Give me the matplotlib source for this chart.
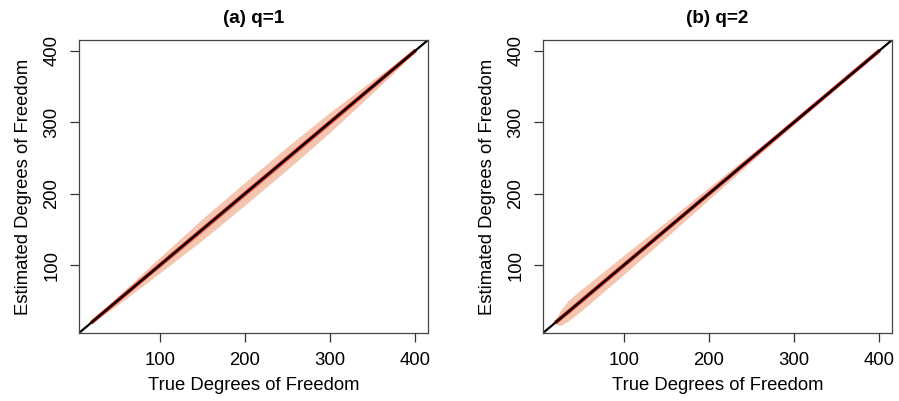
import numpy as np
import matplotlib
matplotlib.use("Agg")
import matplotlib.pyplot as plt

plt.rcParams['font.family'] = ['Liberation Sans', 'DejaVu Sans']

# Panel (a) q=1
true_df_a = [20, 50, 100, 150, 200, 250, 300, 350, 380, 400]
mean_a    = [20, 50, 100, 150, 200, 250, 300, 350, 380, 400]
outer_hi_a = [21, 56, 111, 165, 216, 266, 314, 359, 385, 401]
outer_lo_a = [19, 44, 89, 135, 184, 234, 286, 341, 375, 399]
inner_hi_a = [20.5, 51.5, 103, 154, 204, 254, 304, 353, 382, 400.5]
inner_lo_a = [19.5, 48.5, 97, 146, 196, 246, 296, 347, 378, 399.5]

# Panel (b) q=2
true_df_b = [20, 25, 35, 50, 100, 150, 200, 250, 300, 350, 400]
mean_b    = [20, 25, 35, 50, 100, 150, 200, 250, 300, 350, 400]
outer_hi_b = [24, 36, 51, 66, 114, 161, 209, 256, 303, 352, 401]
outer_lo_b = [17, 15, 22, 36, 87, 139, 192, 245, 297, 348, 399]
inner_hi_b = [21, 27, 38, 53, 103, 152, 202, 251, 301, 351, 400.5]
inner_lo_b = [19, 23, 32, 47, 97, 148, 198, 249, 299, 349, 399.5]

xticks = [100, 200, 300, 400]
yticks = [100, 200, 300, 400]
titles = ["(a) q=1", "(b) q=2"]

fig = plt.figure(figsize=(8.99, 4.01), dpi=100)
W, H = 899, 401
axes_px = [(79, 40, 349, 293), (543, 40, 349, 293)]

panels = [
    (true_df_a, mean_a, outer_lo_a, outer_hi_a, inner_lo_a, inner_hi_a),
    (true_df_b, mean_b, outer_lo_b, outer_hi_b, inner_lo_b, inner_hi_b),
]

for (l, t, w, h), title, (x, m, olo, ohi, ilo, ihi) in zip(axes_px, titles, panels):
    ax = fig.add_axes([l / W, 1 - (t + h) / H, w / W, h / H])
    ax.fill_between(x, olo, ohi, color='#F5C6AF', lw=0)
    ax.fill_between(x, ilo, ihi, color='#E89580', lw=0)
    ax.plot(x, m, color='#D9241C', lw=2.8, solid_capstyle='round')
    ax.axline((0, 0), slope=1, color='black', lw=1.6)
    ax.set_xlim(4.8, 415.2)
    ax.set_ylim(4.8, 415.2)
    ax.set_xticks(xticks)
    ax.set_yticks(yticks)
    ax.set_yticklabels([str(v) for v in yticks], rotation=90, va='center')
    ax.tick_params(direction='out', length=6.5, width=0.9, labelsize=13.3,
                   color='#333333')
    ax.tick_params(axis='x', pad=7)
    ax.tick_params(axis='y', pad=7)
    for s in ax.spines.values():
        s.set_color('#444444')
        s.set_linewidth(0.9)
    ax.set_xlabel("True Degrees of Freedom", fontsize=13.3, labelpad=6)
    ax.set_ylabel("Estimated Degrees of Freedom", fontsize=13.3, labelpad=8)
    ax.set_title(title, fontsize=13.6, fontweight='bold', pad=12)

fig.savefig("out.png", dpi=100)
